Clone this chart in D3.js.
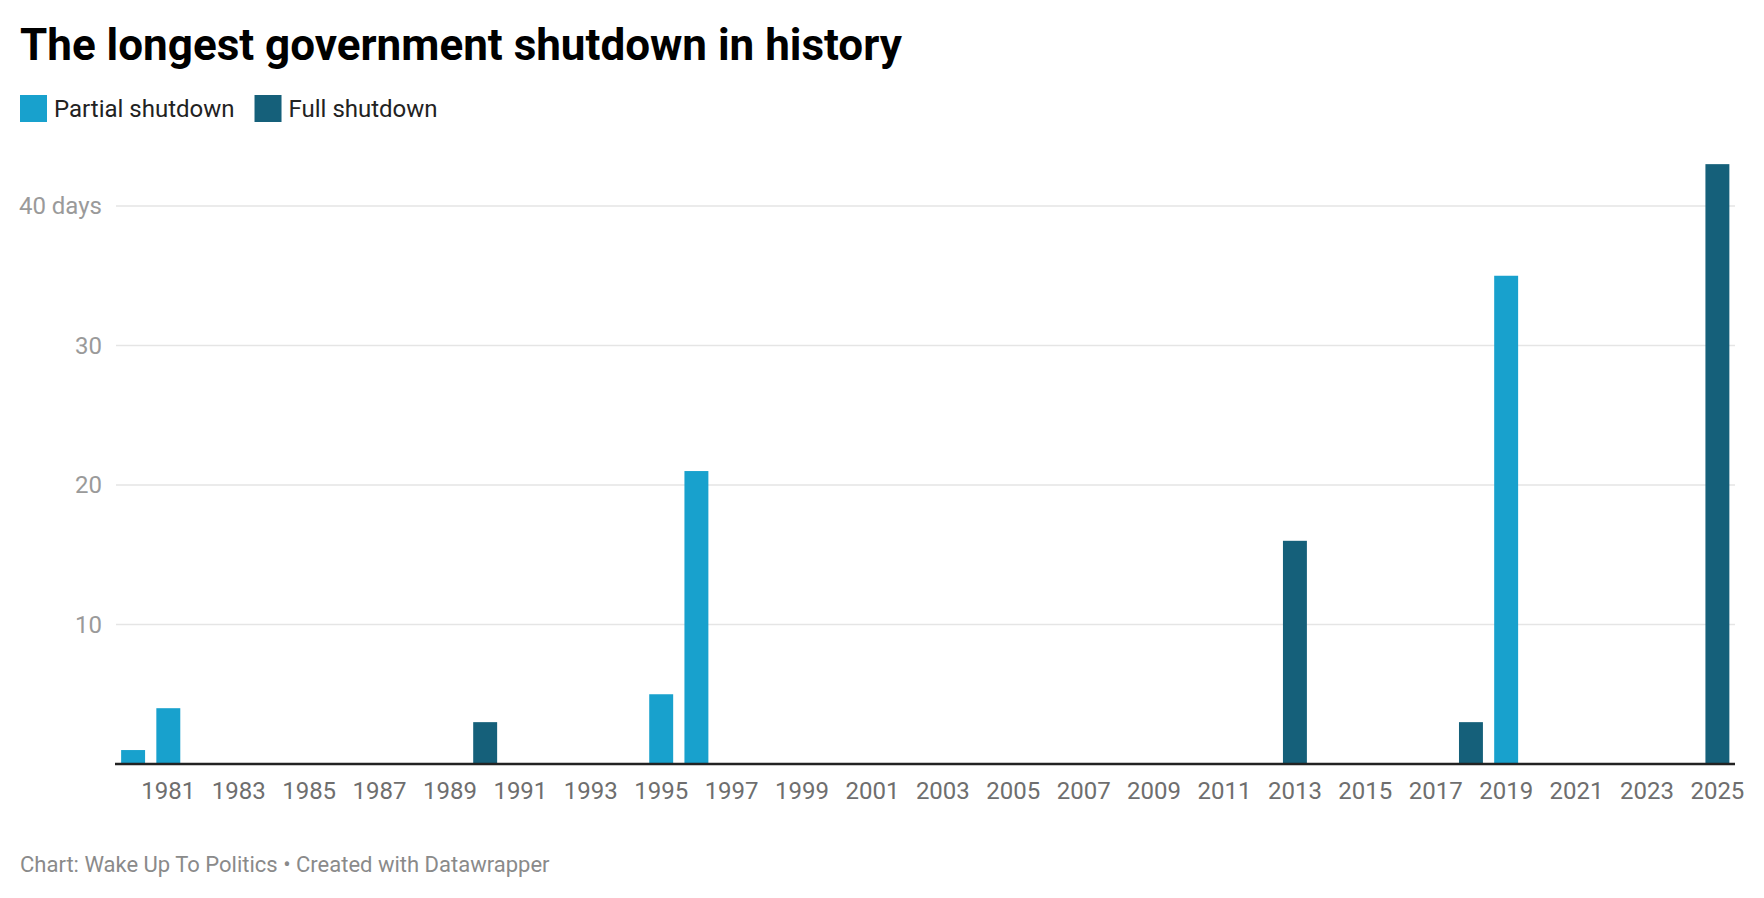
<!DOCTYPE html>
<html>
<head>
<meta charset="utf-8">
<script src="https://cdn.jsdelivr.net/npm/d3@7"></script>
<style>
	body { margin: 0; background: #fff; }
	svg { font-family: Roboto, "Noto Sans", sans-serif; display: block; }
</style>
</head>
<body>
<script>
// chart data
const years = d3.range(1980, 2026);
const shutdownYears = [1980, 1981, 1990, 1995, 1996, 2013, 2018, 2019, 2025];
const shutdownDays = [1, 4, 3, 5, 21, 16, 3, 35, 43];
const shutdownKinds = ["partial", "partial", "full", "partial", "partial", "full", "full", "partial", "full"];
const xTickYears = [1981, 1983, 1985, 1987, 1989, 1991, 1993, 1995, 1997, 1999, 2001, 2003, 2005,
	2007, 2009, 2011, 2013, 2015, 2017, 2019, 2021, 2023, 2025];
const yTicks = [10, 20, 30, 40];
const legendItems = [{ key: "partial", label: "Partial shutdown" }, { key: "full", label: "Full shutdown" }];

const COLORS = { partial: "#18a1cd", full: "#15607a" };
const W = 1764, H = 898;

const svg = d3.select("body").append("svg")
	.attr("width", W)
	.attr("height", H);

svg.append("text")
	.attr("x", 20).attr("y", 60)
	.attr("font-size", 44).attr("font-weight", 700).attr("fill", "#000")
	.text("The longest government shutdown in history");

// legend
let lx = 20;
for (const item of legendItems) {
	svg.append("rect")
		.attr("x", lx).attr("y", 95)
		.attr("width", 27).attr("height", 27)
		.attr("fill", COLORS[item.key]);
	const t = svg.append("text")
		.attr("x", lx + 34).attr("y", 116.5)
		.attr("font-size", 24).attr("fill", "#222")
		.text(item.label);
	lx += 34 + t.node().getComputedTextLength() + 20;
}

const x = d3.scaleBand()
	.domain(years)
	.range([115.5, 1735])
	.paddingInner(0.32)
	.paddingOuter(0.16);

const y = d3.scaleLinear()
	.domain([0, 40])
	.range([764, 206]);

// gridlines
svg.append("g")
	.selectAll("line")
	.data(yTicks)
	.join("line")
	.attr("x1", 116).attr("x2", 1735)
	.attr("y1", d => y(d)).attr("y2", d => y(d))
	.attr("stroke", "#e5e5e5").attr("stroke-width", 1.5);

svg.append("g")
	.selectAll("text")
	.data(yTicks)
	.join("text")
	.attr("x", 102)
	.attr("y", d => y(d))
	.attr("dy", "0.35em")
	.attr("text-anchor", "end")
	.attr("font-size", 24).attr("fill", "#9a9a9a")
	.text(d => d === 40 ? "40 days" : d);

// bars
const bars = shutdownYears.map((yr, i) => ({ year: yr, days: shutdownDays[i], kind: shutdownKinds[i] }));
svg.append("g")
	.selectAll("rect")
	.data(bars)
	.join("rect")
	.attr("x", d => x(d.year))
	.attr("width", x.bandwidth())
	.attr("y", d => y(d.days))
	.attr("height", d => y(0) - y(d.days))
	.attr("fill", d => COLORS[d.kind]);

// baseline
svg.append("line")
	.attr("x1", 115).attr("x2", 1735)
	.attr("y1", y(0)).attr("y2", y(0))
	.attr("stroke", "#222").attr("stroke-width", 2.5);

svg.append("g")
	.selectAll("text")
	.data(xTickYears)
	.join("text")
	.attr("x", d => x(d) + x.bandwidth() / 2)
	.attr("y", 799)
	.attr("text-anchor", "middle")
	.attr("font-size", 24).attr("fill", "#6e6e6e")
	.text(d => d);

svg.append("text")
	.attr("x", 20).attr("y", 872)
	.attr("font-size", 22).attr("fill", "#8a8a8a")
	.text("Chart: Wake Up To Politics • Created with Datawrapper");
</script>
</body>
</html>
